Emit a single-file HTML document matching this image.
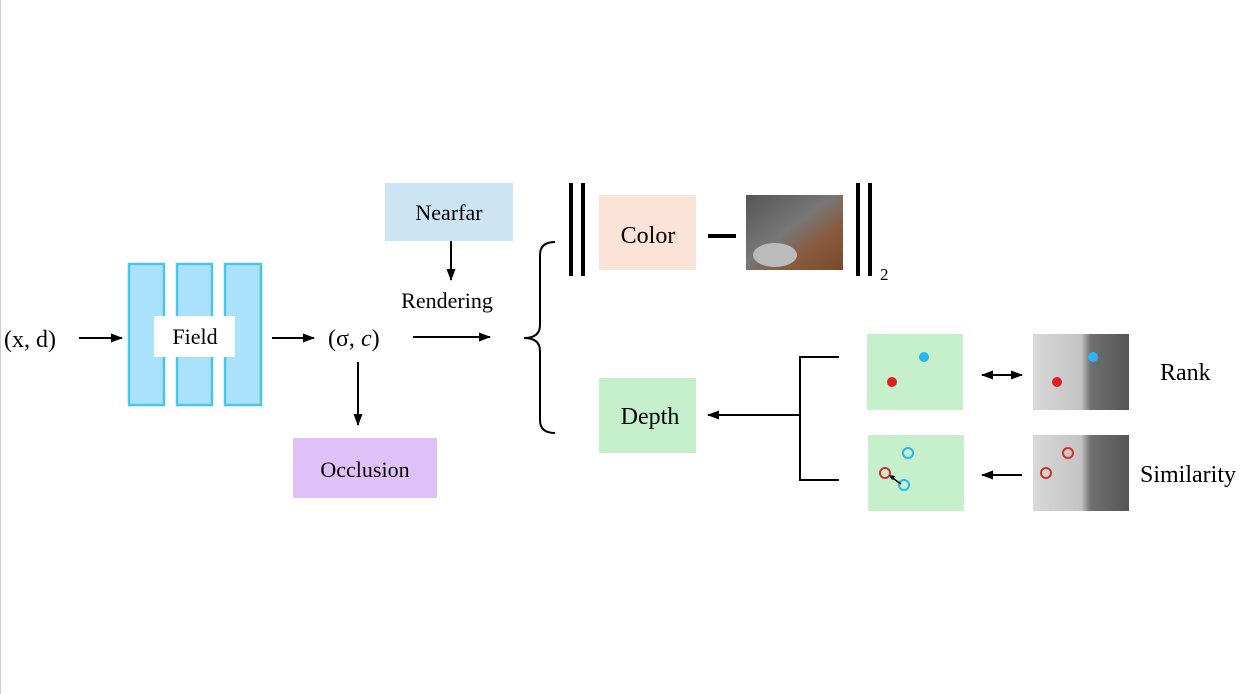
<!DOCTYPE html>
<html><head><meta charset="utf-8"><style>
html,body{margin:0;padding:0;background:#fff;}
svg{display:block;font-family:"Liberation Serif",serif;}
</style></head><body>
<svg width="1240" height="694" viewBox="0 0 1240 694">
<defs>
<marker id="a" markerWidth="12" markerHeight="9" refX="11" refY="4.5" orient="auto" markerUnits="userSpaceOnUse"><path d="M0,0 L12,4.5 L0,9 z" fill="#000"/></marker>
<marker id="as" markerWidth="12" markerHeight="9" refX="1" refY="4.5" orient="auto" markerUnits="userSpaceOnUse"><path d="M12,0 L0,4.5 L12,9 z" fill="#000"/></marker>
<linearGradient id="cat" x1="0" y1="0" x2="1" y2="1">
<stop offset="0" stop-color="#555"/><stop offset="0.45" stop-color="#777"/><stop offset="0.7" stop-color="#8a5a3c"/><stop offset="1" stop-color="#7a4a2c"/></linearGradient>
<linearGradient id="dep" x1="0" y1="0" x2="1" y2="0">
<stop offset="0" stop-color="#d8d8d8"/><stop offset="0.5" stop-color="#c4c4c4"/><stop offset="0.6" stop-color="#707070"/><stop offset="1" stop-color="#555"/></linearGradient>
</defs>
<line x1="0.5" y1="0" x2="0.5" y2="694" stroke="#ccc"/>
<g fill="#a9e2fa" stroke="#4fc3ea" stroke-width="2.5">
<rect x="129" y="264" width="35" height="141"/>
<rect x="177" y="264" width="35" height="141"/>
<rect x="225" y="264" width="36" height="141"/>
</g>
<rect x="154" y="316" width="81" height="41" fill="#fff"/>
<text x="195" y="344" font-size="22" text-anchor="middle">Field</text>
<text x="4" y="347" font-size="24">(x, d)</text>
<g stroke="#000" stroke-width="2" fill="none">
<line x1="79" y1="338" x2="122" y2="338" marker-end="url(#a)"/>
<line x1="272" y1="338" x2="314" y2="338" marker-end="url(#a)"/>
<line x1="358" y1="362" x2="358" y2="425" marker-end="url(#a)"/>
<line x1="451" y1="241" x2="451" y2="280" marker-end="url(#a)"/>
<line x1="413" y1="337" x2="490" y2="337" marker-end="url(#a)"/>
<path d="M555,242 Q540,242 540,255 L540,325 Q540,338 524,338 Q540,338 540,351 L540,420 Q540,433 555,433"/>
<line x1="800" y1="415" x2="708" y2="415" marker-end="url(#a)"/>
<path d="M839,357 L800,357 L800,480 L839,480"/>
<line x1="982" y1="375" x2="1022" y2="375" marker-end="url(#a)" marker-start="url(#as)"/>
<line x1="1022" y1="475" x2="982" y2="475" marker-end="url(#a)"/>
</g>
<text x="328" y="346" font-size="24">(σ, <tspan font-style="italic">c</tspan>)</text>
<rect x="293" y="438" width="144" height="60" fill="#e0c1f7"/>
<text x="365" y="477" font-size="22" text-anchor="middle">Occlusion</text>
<rect x="385" y="183" width="128" height="58" fill="#cde4f4"/>
<text x="449" y="220" font-size="22" text-anchor="middle">Nearfar</text>
<text x="447" y="308" font-size="22" text-anchor="middle">Rendering</text>
<g fill="#000">
<rect x="569" y="183" width="4" height="93"/><rect x="581" y="183" width="4" height="93"/>
<rect x="856" y="183" width="4" height="93"/><rect x="868" y="183" width="4" height="93"/>
<rect x="708" y="234" width="28" height="4"/>
</g>
<text x="880" y="280" font-size="17">2</text>
<rect x="599" y="195" width="97" height="75" fill="#fbe3d8"/>
<text x="648" y="243" font-size="24" text-anchor="middle">Color</text>
<rect x="746" y="195" width="97" height="75" fill="url(#cat)"/>
<ellipse cx="775" cy="255" rx="22" ry="12" fill="#bbb"/>
<rect x="599" y="378" width="97" height="75" fill="#c6f0cc"/>
<text x="650" y="424" font-size="24" text-anchor="middle">Depth</text>
<rect x="867" y="334" width="96" height="76" fill="#c6f0cc"/>
<rect x="868" y="435" width="96" height="76" fill="#c6f0cc"/>
<rect x="1033" y="334" width="96" height="76" fill="url(#dep)"/>
<rect x="1033" y="435" width="96" height="76" fill="url(#dep)"/>
<circle cx="924" cy="357" r="5" fill="#29b6f0"/>
<circle cx="892" cy="382" r="5" fill="#e02020"/>
<circle cx="1093" cy="357" r="5" fill="#29b6f0"/>
<circle cx="1057" cy="382" r="5" fill="#e02020"/>
<g fill="none" stroke-width="2">
<circle cx="908" cy="453" r="5" stroke="#29b6f0"/>
<circle cx="885" cy="473" r="5" stroke="#d03030"/>
<circle cx="904" cy="485" r="5" stroke="#29b6f0"/>
<circle cx="1068" cy="453" r="5" stroke="#d03030"/>
<circle cx="1046" cy="473" r="5" stroke="#d03030"/>
</g>
<line x1="901" y1="484" x2="891" y2="477" stroke="#000" stroke-width="1.5"/>
<path d="M889,475 L895,476 L892,480 z" fill="#000"/>
<text x="1160" y="380" font-size="24">Rank</text>
<text x="1140" y="482" font-size="24">Similarity</text>
</svg>
</body></html>
